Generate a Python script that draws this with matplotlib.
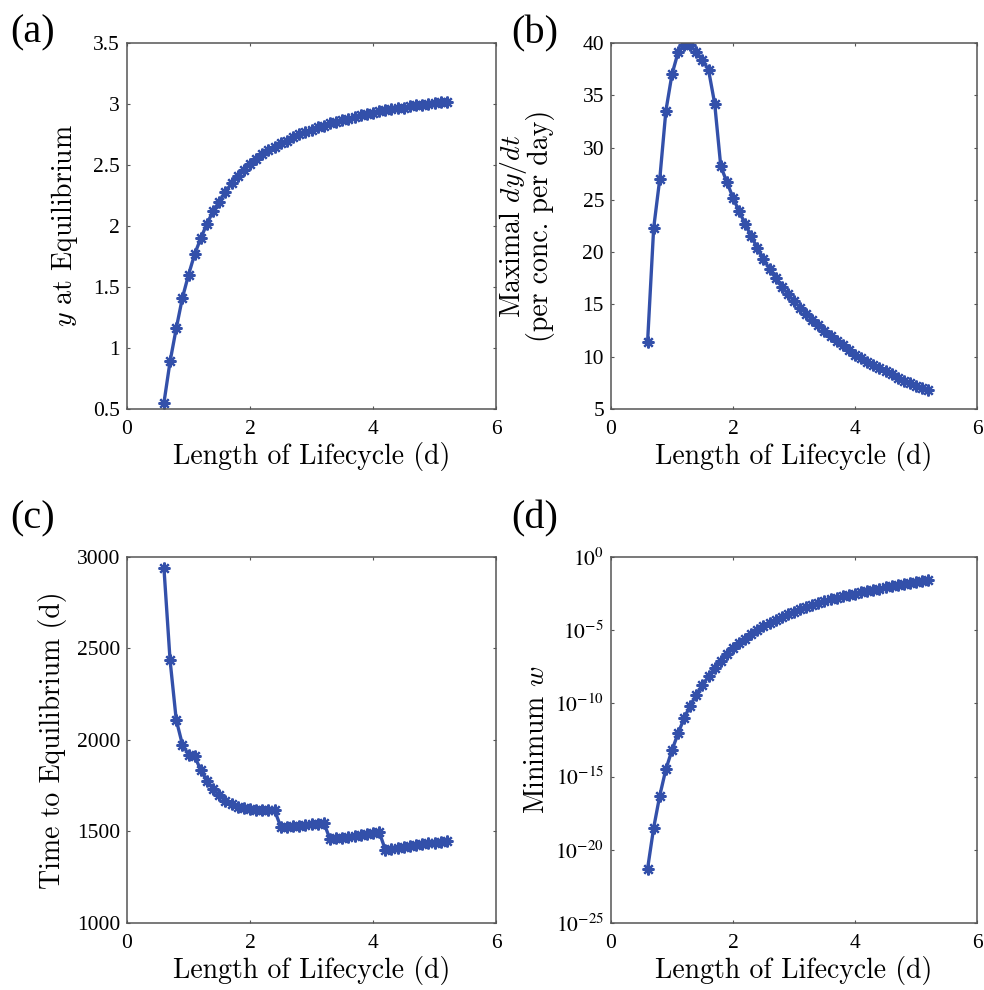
import numpy as np
import matplotlib
matplotlib.use('Agg')
import matplotlib.pyplot as plt
from matplotlib.ticker import FixedLocator, FuncFormatter, NullLocator

plt.rcParams['font.family'] = ['Liberation Serif', 'DejaVu Serif']
plt.rcParams['mathtext.fontset'] = 'stix'

# length of lifecycle (d)
lifecycle = [0.6, 0.7, 0.8, 0.9, 1.0, 1.1, 1.2, 1.3, 1.4, 1.5, 1.6, 1.7, 1.8, 1.9,
             2.0, 2.1, 2.2, 2.3, 2.4, 2.5, 2.6, 2.7, 2.8, 2.9, 3.0, 3.1, 3.2, 3.3,
             3.4, 3.5, 3.6, 3.7, 3.8, 3.9, 4.0, 4.1, 4.2, 4.3, 4.4, 4.5, 4.6, 4.7,
             4.8, 4.9, 5.0, 5.1, 5.2]

# (a) y at equilibrium
y_equil = [0.55, 0.89, 1.16, 1.41, 1.60, 1.77, 1.90, 2.02, 2.12, 2.20, 2.28, 2.35,
           2.41, 2.46, 2.51, 2.55, 2.59, 2.62, 2.65, 2.68, 2.70, 2.73, 2.75, 2.77,
           2.79, 2.81, 2.82, 2.84, 2.85, 2.87, 2.88, 2.89, 2.91, 2.92, 2.93, 2.94,
           2.95, 2.96, 2.965, 2.97, 2.98, 2.99, 2.995, 3.00, 3.01, 3.015, 3.02]

# (b) maximal dy/dt
max_rate = [11.4, 22.3, 27.0, 33.5, 37.0, 39.1, 39.8, 39.8, 39.1, 38.4, 37.4, 34.2,
            28.2, 26.7, 25.2, 23.9, 22.7, 21.5, 20.4, 19.3, 18.4, 17.5, 16.7, 16.0,
            15.3, 14.7, 14.1, 13.5, 13.0, 12.5, 12.0, 11.5, 11.1, 10.6, 10.2, 9.9,
            9.5, 9.2, 8.9, 8.6, 8.3, 8.0, 7.7, 7.5, 7.2, 7.0, 6.8]

# (c) time to equilibrium (d)
t_equil = [2940, 2435, 2110, 1975, 1920, 1910, 1835, 1778, 1732, 1697, 1668, 1648,
           1635, 1627, 1622, 1619, 1617, 1616, 1615, 1525, 1526, 1528, 1531, 1535,
           1539, 1543, 1548, 1458, 1462, 1466, 1471, 1476, 1481, 1487, 1492, 1497,
           1400, 1405, 1410, 1415, 1420, 1425, 1430, 1435, 1439, 1443, 1447]

# (d) minimum w, as log10
min_w_log10 = [-21.3, -18.5, -16.3, -14.5, -13.2, -12.05, -11.0, -10.15, -9.4, -8.75,
               -8.15, -7.6, -7.1, -6.65, -6.25, -5.9, -5.57, -5.27, -5.0, -4.74,
               -4.5, -4.28, -4.08, -3.9, -3.73, -3.57, -3.42, -3.28, -3.15, -3.02,
               -2.9, -2.79, -2.69, -2.59, -2.5, -2.41, -2.32, -2.24, -2.16, -2.08,
               -2.0, -1.93, -1.86, -1.79, -1.72, -1.66, -1.6]
min_w = 10.0 ** np.array(min_w_log10)

LINE_COLOR = '#3350aa'
SPINE_COLOR = '#555555'
LABEL_SIZE = 20
xlabel = 'Length of Lifecycle (d)'

fig = plt.figure(figsize=(9.84, 9.90), dpi=100)
ax_a = fig.add_axes([0.1291, 0.5869, 0.375, 0.3697])
ax_b = fig.add_axes([0.6209, 0.5869, 0.372, 0.3697])
ax_c = fig.add_axes([0.1291, 0.0677, 0.375, 0.3697])
ax_d = fig.add_axes([0.6209, 0.0677, 0.372, 0.3697])


def style(ax):
    ax.set_xlim(0, 6)
    ax.xaxis.set_major_locator(FixedLocator([0, 2, 4, 6]))
    ax.yaxis.set_minor_locator(NullLocator())
    ax.xaxis.set_minor_locator(NullLocator())
    ax.tick_params(direction='in', top=True, right=True, length=2.5, width=0.8,
                   color=SPINE_COLOR, labelsize=15.5)
    ax.tick_params(axis='x', pad=8)
    ax.tick_params(axis='y', pad=5)
    for sp in ax.spines.values():
        sp.set_color(SPINE_COLOR)
        sp.set_linewidth(1.1)
    ax.set_xlabel(xlabel, fontfamily='cmr10', fontsize=LABEL_SIZE, labelpad=2)


def draw(ax, y):
    ax.plot(lifecycle, y, color=LINE_COLOR, lw=2.4, marker=(8, 2, 0),
            ms=8.5, mew=1.6, mec=LINE_COLOR)


gfmt = FuncFormatter(lambda v, p: '%g' % v)

# (a)
draw(ax_a, y_equil)
style(ax_a)
ax_a.set_ylim(0.5, 3.5)
ax_a.yaxis.set_major_locator(FixedLocator([0.5, 1, 1.5, 2, 2.5, 3, 3.5]))
ax_a.yaxis.set_major_formatter(gfmt)
ax_a.set_ylabel('$y$ at Equilibrium', fontfamily='cmr10', fontsize=LABEL_SIZE,
                math_fontfamily='cm')
ax_a.yaxis.set_label_coords(-0.127, 0.5)

# (b)
draw(ax_b, max_rate)
style(ax_b)
ax_b.set_ylim(5, 40)
ax_b.yaxis.set_major_locator(FixedLocator(list(range(5, 41, 5))))
ax_b.yaxis.set_major_formatter(gfmt)
ax_b.set_ylabel('Maximal $dy/dt$\n(per conc. per day)', fontfamily='cmr10',
                fontsize=LABEL_SIZE, math_fontfamily='cm', linespacing=0.9)
ax_b.yaxis.set_label_coords(-0.152, 0.5)

# (c)
draw(ax_c, t_equil)
style(ax_c)
ax_c.set_ylim(1000, 3000)
ax_c.yaxis.set_major_locator(FixedLocator([1000, 1500, 2000, 2500, 3000]))
ax_c.yaxis.set_major_formatter(gfmt)
ax_c.set_ylabel('Time to Equilibrium (d)', fontfamily='cmr10', fontsize=LABEL_SIZE)
ax_c.yaxis.set_label_coords(-0.163, 0.5)

# (d)
draw(ax_d, min_w)
style(ax_d)
ax_d.set_yscale('log')
ax_d.set_ylim(1e-25, 1e0)
ax_d.yaxis.set_major_locator(FixedLocator([1e-25, 1e-20, 1e-15, 1e-10, 1e-5, 1e0]))
ax_d.yaxis.set_minor_locator(NullLocator())
ax_d.yaxis.set_major_formatter(
    FuncFormatter(lambda v, p: '$10^{%d}$' % int(round(np.log10(v)))))
ax_d.set_ylabel('Minimum $w$', fontfamily='cmr10', fontsize=LABEL_SIZE,
                math_fontfamily='cm')
ax_d.yaxis.set_label_coords(-0.167, 0.5)

for lab, x, y in [('(a)', 0.01, 0.985), ('(b)', 0.52, 0.985),
                  ('(c)', 0.01, 0.495), ('(d)', 0.52, 0.495)]:
    fig.text(x, y, lab, fontsize=29, ha='left', va='top')

fig.savefig('out.png', dpi=100)
